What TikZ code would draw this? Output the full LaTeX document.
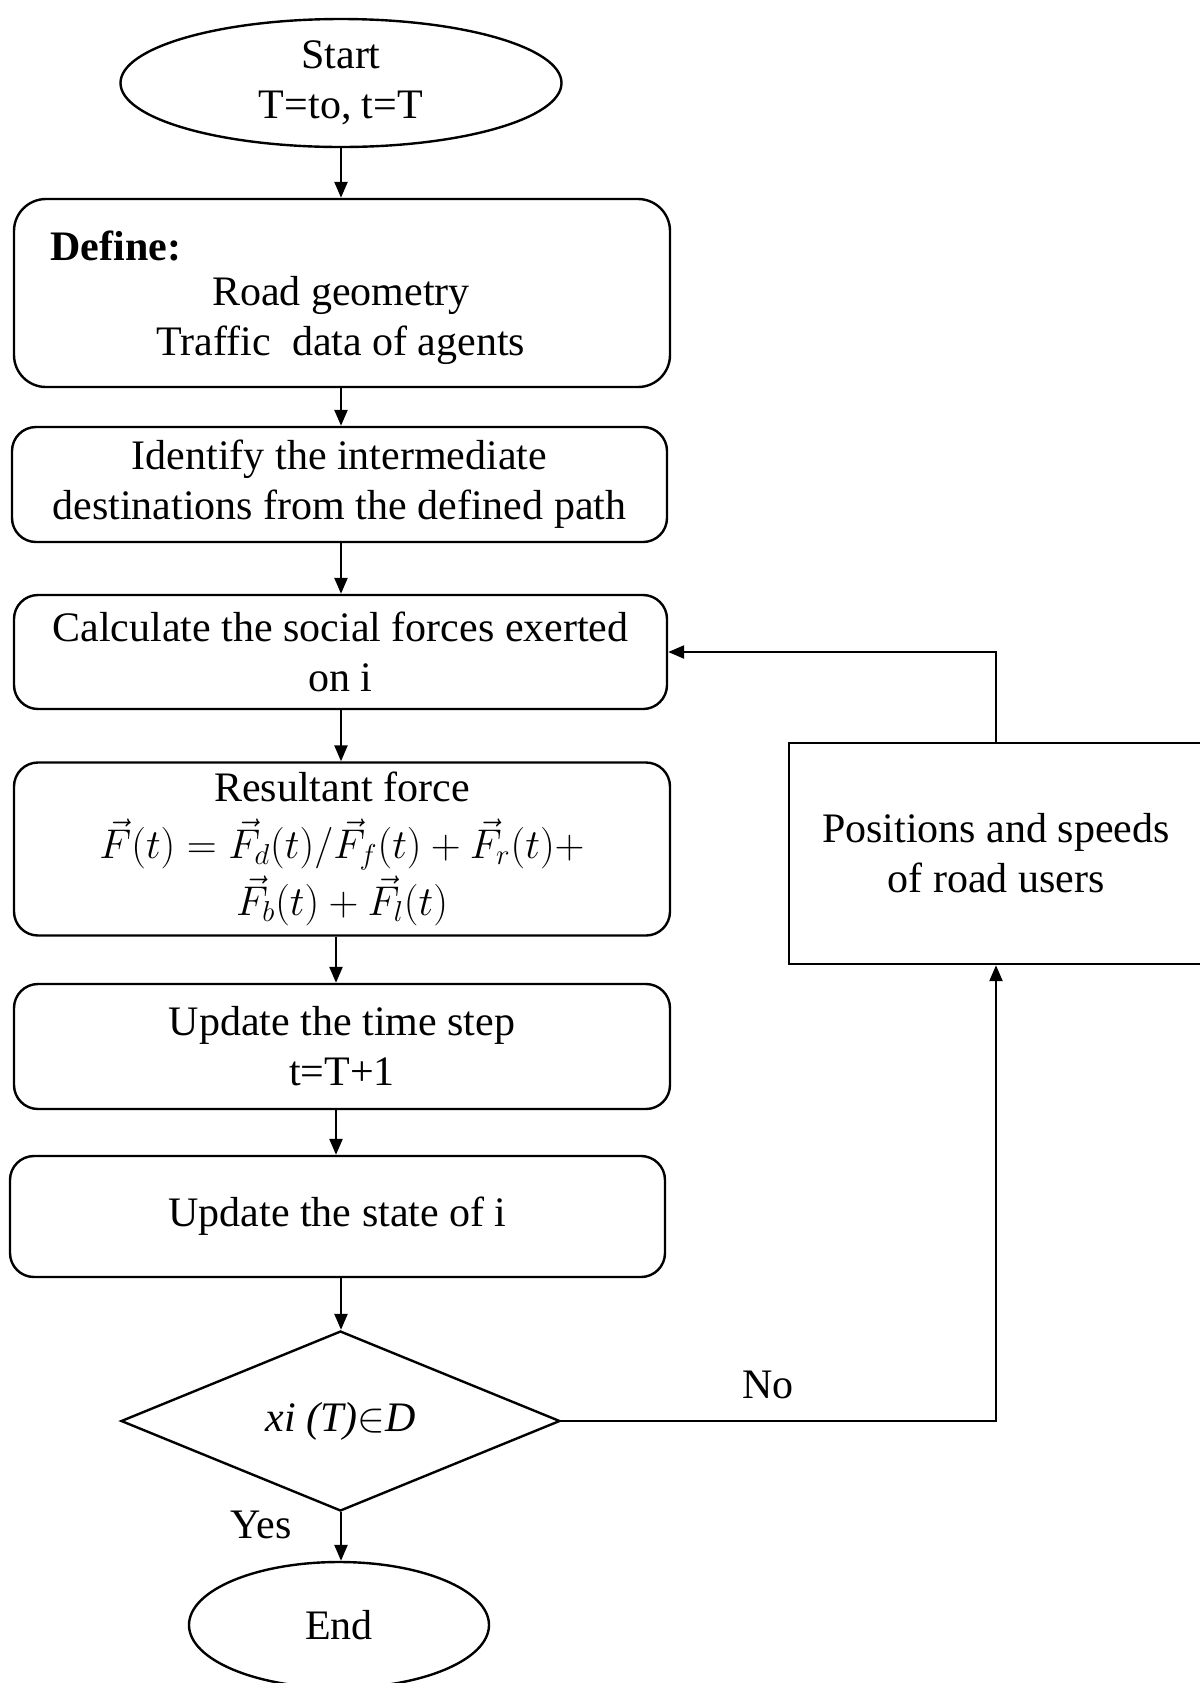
\documentclass[tikz,border=0pt]{standalone}
\usepackage{fontspec}
\setmainfont{Liberation Serif}
\usetikzlibrary{shapes.geometric,arrows.meta}
\begin{document}
\begin{tikzpicture}[x=0.5pt,y=-0.5pt,
  every node/.style={font=\fontsize{21}{25}\selectfont},
  ln/.style={line width=1.2pt},
  arr/.style={ln,-{Triangle[length=8pt,width=6.5pt]}},
  rbox/.style={draw,ln,rounded corners=12pt,align=center,inner sep=0pt},
  sbox/.style={draw,ln,align=center,inner sep=0pt},
  term/.style={draw,ln,ellipse,align=center,inner sep=0pt},
  dec/.style={draw,ln,diamond,inner sep=0pt,aspect=2.44},
  lbl/.style={inner sep=0pt}]
\useasboundingbox (0,0) rectangle (1200,1683);
% nodes
\node[term,minimum width=220.5pt,minimum height=64pt] (start) at (341,83) {Start\\T=to, t=T};
\node[rbox,rounded corners=16pt,minimum width=328pt,minimum height=94pt] (def) at (342,293) {};
\node[lbl,anchor=west] (deft) at (50,246) {\bfseries Define:};
\node[lbl,align=center] (defl) at (341,320) {Road geometry\\Traffic\ \ data of agents};
\node[rbox,minimum width=327.5pt,minimum height=57.5pt] (idf) at (339.5,484.5) {Identify the intermediate\\destinations from the defined path};
\node[rbox,minimum width=326.5pt,minimum height=57pt] (calc) at (340.5,652) {Calculate\ the\ social\ forces\ exerted\\on i};
\node[rbox,minimum width=328pt,minimum height=86.5pt,font=\fontsize{21}{28.5}\selectfont] (res) at (342,849) {Resultant force\\$\vec{F}(t)=\vec{F}_d(t)/\vec{F}_f(t)+\vec{F}_r(t)+$\\$\vec{F}_b(t)+\vec{F}_l(t)$};
\node[rbox,minimum width=328pt,minimum height=62.5pt] (upt) at (342,1046.5) {Update the time step\\t=T+1};
\node[rbox,minimum width=327.5pt,minimum height=60.5pt] (ups) at (337.5,1216.5) {Update the state of i};
\node[dec,minimum width=219.5pt,minimum height=90pt] (cond) at (340.5,1421) {\itshape xi (T)$\in$D};
\node[term,minimum width=150pt,minimum height=63pt] (end) at (339,1625) {End};
\node[sbox,minimum width=207pt,minimum height=110.5pt] (pos) at (996,853.5) {Positions and speeds\\of road users};
\node[lbl] (no) at (768,1385) {No};
\node[lbl] (yes) at (261,1525) {Yes};
% connectors
\coordinate (xa) at (341,0);
\coordinate (xb) at (336,0);
\draw[arr] (start.south -| xa) -- (def.north -| xa);
\draw[arr] (def.south -| xa) -- (idf.north -| xa);
\draw[arr] (idf.south -| xa) -- (calc.north -| xa);
\draw[arr] (calc.south -| xa) -- (res.north -| xa);
\draw[arr] (res.south -| xb) -- (upt.north -| xb);
\draw[arr] (upt.south -| xb) -- (ups.north -| xb);
\draw[arr] (ups.south -| xa) -- (cond.north -| xa);
\draw[arr] (cond.south -| xa) -- (end.north -| xa);
\draw[arr] (cond.east) -| (pos.south);
\draw[arr] (pos.north) |- (calc.east);
\end{tikzpicture}
\end{document}
